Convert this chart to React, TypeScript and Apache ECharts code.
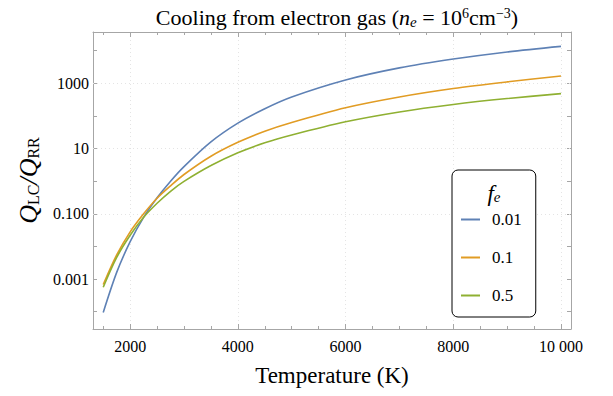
import React, { useEffect, useRef } from "react";
import * as echarts from "echarts";

const temperatures = [1500, 1750, 2000, 2250, 2500, 2750, 3000, 3500, 4000, 4500, 5000, 6000, 7000, 8000, 9000, 10000];
const seriesNames = ["0.01", "0.1", "0.5"];
const ratioFe001 = [9.5e-5, 0.0016, 0.014, 0.078, 0.31, 1.0, 2.8, 16, 60, 166, 380, 1260, 2950, 5500, 9100, 13500];
const ratioFe01 = [6.8e-4, 0.0055, 0.028, 0.1, 0.3, 0.72, 1.6, 5.8, 15.5, 34, 63, 178, 380, 690, 1100, 1660];
const ratioFe05 = [5.6e-4, 0.0046, 0.022, 0.078, 0.21, 0.49, 0.98, 3.0, 7.4, 15, 26, 66, 132, 224, 340, 480];
const yLabelledTicks = [0.001, 0.1, 10, 1000];
const yTickLabels = ["0.001", "0.100", "10", "1000"];
const xTickLabels: Record<number, string> = { 2000: "2000", 4000: "4000", 6000: "6000", 8000: "8000", 10000: "10 000" };
const colors = ["#5E81B5", "#E19C24", "#8FB032"];

const FONT = "Liberation Serif";
const FRAME = "#a6a6a6";

export default function App() {
  const ref = useRef<HTMLDivElement>(null);
  useEffect(() => {
    if (!ref.current) return;
    const chart = echarts.init(ref.current, null, { renderer: "svg" });
    const allSeries = [ratioFe001, ratioFe01, ratioFe05];
    const yFmt = (v: number) => {
      const l = Math.log10(v);
      const e = Math.round(l);
      if (Math.abs(l - e) > 1e-6) return "";
      const idx = yLabelledTicks.findIndex((t) => Math.round(Math.log10(t)) === e);
      return idx >= 0 ? yTickLabels[idx] : "";
    };
    const xFmt = (v: number) => xTickLabels[Math.round(v)] ?? "";
    const xMin = 1310, xMax = 10186;
    const yMin = Math.pow(10, -4.53), yMax = Math.pow(10, 4.57);
    const baseX = {
      type: "value" as const,
      min: xMin,
      max: xMax,
      splitNumber: 4,
      axisLine: { show: true, lineStyle: { color: FRAME, width: 1 } },
      axisTick: { show: true, inside: true, length: 5, lineStyle: { color: FRAME } },
      minorTick: { show: true, splitNumber: 4, length: 3, lineStyle: { color: FRAME } },
    };
    const baseY = {
      type: "log" as const,
      logBase: 10,
      min: yMin,
      max: yMax,
      splitNumber: 10,
      axisLine: { show: true, lineStyle: { color: FRAME, width: 1 } },
      axisTick: { show: true, inside: true, length: 4, lineStyle: { color: FRAME } },
    };
    chart.setOption({
      animation: false,
      backgroundColor: "#ffffff",
      textStyle: { fontFamily: FONT },
      title: {
        text: "Cooling from electron gas ({it|n}{sub|e} = 10{sup|6}cm{sup|−3})",
        left: 332,
        top: 1,
        textAlign: "center",
        textStyle: {
          fontFamily: FONT,
          fontSize: 22,
          fontWeight: "normal",
          color: "#000",
          rich: {
            it: { fontFamily: FONT, fontSize: 22, fontStyle: "italic", color: "#000" },
            sub: { fontFamily: FONT, fontSize: 15, fontStyle: "italic", color: "#000", verticalAlign: "bottom", padding: [7, 0, 0, 0] },
            sup: { fontFamily: FONT, fontSize: 14, color: "#000", verticalAlign: "top", padding: [0, 0, 9, 0] },
          },
        },
      },
      grid: { left: 93, right: 42, top: 32, bottom: 67, containLabel: false },
      xAxis: [
        {
          ...baseX,
          position: "bottom",
          name: "Temperature (K)",
          nameLocation: "middle",
          nameGap: 35,
          nameTextStyle: { fontFamily: FONT, fontSize: 23, color: "#000" },
          axisLabel: { show: true, formatter: xFmt, fontFamily: FONT, fontSize: 16, color: "#000", margin: 9, showMinLabel: false, showMaxLabel: false },
          splitLine: { show: true, lineStyle: { color: "#e4e4e4", type: [1, 3], width: 1 } },
        },
        {
          ...baseX,
          position: "top",
          axisLabel: { show: false },
          splitLine: { show: false },
        },
      ],
      yAxis: [
        {
          ...baseY,
          position: "left",
          name: "{q|Q}{s|LC}{q|/}{q|Q}{s|RR}",
          nameLocation: "middle",
          nameRotate: 90,
          nameGap: 52,
          nameTextStyle: {
            fontFamily: FONT,
            fontSize: 26,
            color: "#000",
            rich: {
              q: { fontFamily: FONT, fontSize: 26, fontStyle: "italic", color: "#000" },
              s: { fontFamily: FONT, fontSize: 16, color: "#000", verticalAlign: "bottom", padding: [9, 0, 0, 0] },
            },
          },
          axisLabel: { show: true, formatter: yFmt, fontFamily: FONT, fontSize: 16, color: "#000", margin: 4, showMinLabel: false, showMaxLabel: false },
          splitLine: { show: false },
        },
        {
          ...baseY,
          position: "right",
          axisLabel: { show: false },
          splitLine: { show: false },
        },
      ],
      legend: {
        orient: "vertical",
        left: 452,
        top: 170,
        padding: [41, 14, 13, 9],
        itemGap: 21,
        itemWidth: 19,
        itemHeight: 2,
        icon: "rect",
        borderColor: "#000",
        borderWidth: 1,
        borderRadius: 6,
        backgroundColor: "#ffffff",
        textStyle: { fontFamily: FONT, fontSize: 17, color: "#000", padding: [0, 0, 0, 7] },
        data: seriesNames,
      },
      graphic: [
        {
          type: "text",
          x: 494,
          y: 193,
          z: 100,
          style: {
            text: "{f|f}{e|e}",
            align: "center",
            verticalAlign: "middle",
            rich: {
              f: { fontFamily: FONT, fontSize: 23, fontStyle: "italic", fill: "#000" },
              e: { fontFamily: FONT, fontSize: 15, fontStyle: "italic", fill: "#000", verticalAlign: "bottom", padding: [8, 0, 0, 0] },
            },
          },
        },
      ],
      series: seriesNames.map((name, i) => ({
        name,
        type: "line",
        xAxisIndex: 0,
        yAxisIndex: 0,
        smooth: 0.3,
        symbol: "none",
        showSymbol: false,
        lineStyle: { color: colors[i], width: 1.6 },
        itemStyle: { color: colors[i] },
        data: temperatures.map((t, j) => [t, allSeries[i][j]]),
        markLine:
          i === 0
            ? {
                silent: true,
                symbol: "none",
                label: { show: false },
                lineStyle: { color: "#e4e4e4", type: [1, 3], width: 1 },
                data: yLabelledTicks.map((v) => ({ yAxis: v })),
                z: 1,
              }
            : undefined,
      })),
    });
    return () => chart.dispose();
  }, []);
  return <div ref={ref} style={{ position: "fixed", left: 0, top: 0, width: 613, height: 396 }} />;
}
